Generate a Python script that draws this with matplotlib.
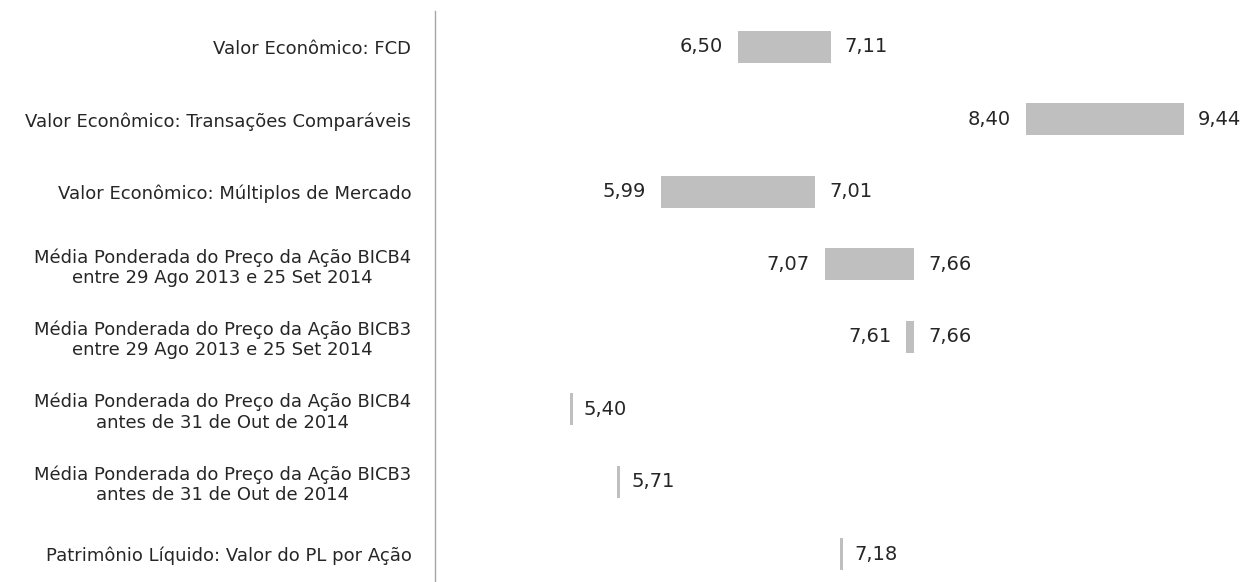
import matplotlib
matplotlib.use("Agg")
import matplotlib.pyplot as plt

categories = [
    "Valor Econômico: FCD",
    "Valor Econômico: Transações Comparáveis",
    "Valor Econômico: Múltiplos de Mercado",
    "Média Ponderada do Preço da Ação BICB4\nentre 29 Ago 2013 e 25 Set 2014",
    "Média Ponderada do Preço da Ação BICB3\nentre 29 Ago 2013 e 25 Set 2014",
    "Média Ponderada do Preço da Ação BICB4\nantes de 31 de Out de 2014",
    "Média Ponderada do Preço da Ação BICB3\nantes de 31 de Out de 2014",
    "Patrimônio Líquido: Valor do PL por Ação",
]
low_values = [6.50, 8.40, 5.99, 7.07, 7.61, 5.40, 5.71, 7.18]
high_values = [7.11, 9.44, 7.01, 7.66, 7.66, None, None, None]

BAR_COLOR = "#BFBFBF"
TEXT_COLOR = "#262626"
MIN_WIDTH = 0.022

def fmt(v):
    return f"{v:.2f}".replace(".", ",")

fig = plt.figure(figsize=(12.5, 5.82), dpi=100)
W, H = 1250, 582
ax = fig.add_axes([435 / W, 0, 1 - 435 / W, 1 - 11 / H])

ys = list(range(len(categories)))
for y, lo, hi in zip(ys, low_values, high_values):
    if hi is None:
        ax.barh(y, MIN_WIDTH, left=lo - MIN_WIDTH / 2, height=0.44, color=BAR_COLOR)
        ax.annotate(fmt(lo), (lo + MIN_WIDTH / 2, y), xytext=(8, 0), textcoords="offset points",
                    ha="left", va="center", fontsize=14, color=TEXT_COLOR)
    else:
        ax.barh(y, hi - lo, left=lo, height=0.44, color=BAR_COLOR)
        ax.annotate(fmt(lo), (lo, y), xytext=(-11, 0), textcoords="offset points",
                    ha="right", va="center", fontsize=14, color=TEXT_COLOR)
        ax.annotate(fmt(hi), (hi, y), xytext=(10, 0), textcoords="offset points",
                    ha="left", va="center", fontsize=14, color=TEXT_COLOR)

ax.set_xlim(4.502, 9.875)
ax.set_ylim(7.386, -0.497)
ax.set_yticks(ys)
ax.set_yticklabels(categories, fontsize=13, color=TEXT_COLOR, multialignment="center",
                   linespacing=1.15)
ax.tick_params(axis="y", length=0, pad=17)
ax.set_xticks([])
for s in ["top", "right", "bottom"]:
    ax.spines[s].set_visible(False)
ax.spines["left"].set_color("#A6A6A6")
ax.spines["left"].set_linewidth(1.0)

fig.savefig("out.png", dpi=100)
